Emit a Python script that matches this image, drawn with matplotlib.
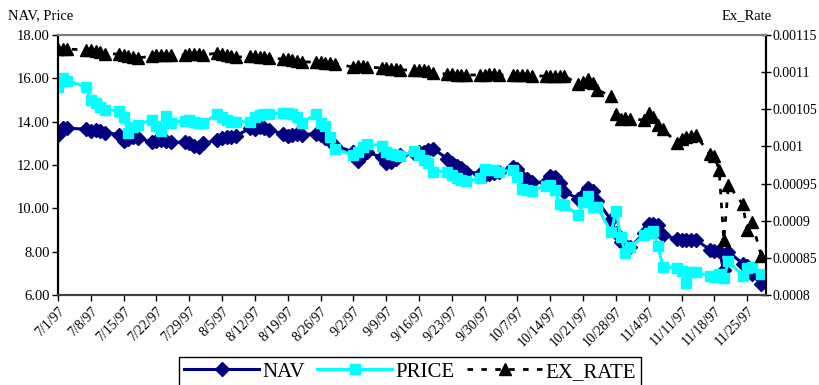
import matplotlib
matplotlib.use("Agg")
import matplotlib.pyplot as plt
import matplotlib.ticker as mticker
import pandas as pd

# trading days Jul 1 - Nov 28 1997 (US holidays skipped)
dates = pd.bdate_range("1997-07-01", "1997-11-28", freq="C",
                       holidays=["1997-07-04", "1997-09-01", "1997-11-27"])

nav = [
    13.4, 13.7, 13.7,                    # Jul 1-3
    13.65, 13.55, 13.6, 13.55, 13.5,     # Jul 7-11
    13.4, 13.1, 13.2, 13.3, 13.25,       # Jul 14-18
    13.05, 13.1, 13.15, 13.1, 13.05,     # Jul 21-25
    13.05, 13.0, 12.9, 12.85, 13.0,      # Jul 28-Aug 1
    13.15, 13.25, 13.3, 13.3, 13.35,     # Aug 4-8
    13.7, 13.65, 13.75, 13.7, 13.6,      # Aug 11-15
    13.45, 13.35, 13.4, 13.45, 13.4,     # Aug 18-22
    13.45, 13.4, 13.25, 13.1, 12.9,      # Aug 25-29
    12.6, 12.2, 12.45, 12.6,             # Sep 2-5
    12.35, 12.1, 12.15, 12.3, 12.45,     # Sep 8-12
    12.55, 12.6, 12.6, 12.7, 12.75,      # Sep 15-19
    12.3, 12.1, 11.95, 11.85, 11.7,      # Sep 22-26
    11.6, 11.55, 11.6, 11.65, 11.7,      # Sep 29-Oct 3
    11.9, 11.8, 11.45, 11.35, 11.2,      # Oct 6-10
    11.2, 11.5, 11.45, 11.15, 10.75,     # Oct 13-17
    10.45, 10.6, 10.95, 10.8, 10.35,     # Oct 20-24
    9.45, 8.85, 8.45, 8.3, 8.2,          # Oct 27-31
    8.85, 9.3, 9.3, 9.25, 8.75,          # Nov 3-7
    8.6, 8.55, 8.55, 8.55, 8.55,         # Nov 10-14
    8.1, 8.05, 8.05, 7.15, 8.0,          # Nov 17-21
    7.45, 7.35, 6.95, 6.5,               # Nov 24-28
]

price = [
    15.6, 16.0, 15.9,
    15.6, 15.0, 14.85, 14.7, 14.55,
    14.5, 14.2, 13.5, 13.75, 13.85,
    14.1, 13.8, 13.55, 14.25, 13.95,
    14.05, 14.1, 14.0, 13.95, 13.95,
    14.35, 14.2, 14.1, 14.0, 14.0,
    14.0, 14.2, 14.3, 14.35, 14.35,
    14.4, 14.4, 14.35, 14.2, 13.95,
    14.35, 13.95, 13.8, 13.3, 12.75,
    12.45, 12.6, 12.85, 12.95,
    12.9, 12.6, 12.5, 12.45, 12.4,
    12.65, 12.45, 12.25, 12.1, 11.7,
    11.7, 11.55, 11.4, 11.3, 11.25,
    11.4, 11.8, 11.75, 11.75, 11.7,
    11.75, 11.45, 10.9, 10.85, 10.8,
    11.05, 11.1, 10.85, 10.2, 10.15,
    9.7, 10.3, 10.55, 10.05, 10.05,
    8.9, 9.9, 8.7, 7.95, 8.2,
    8.75, 8.85, 8.95, 8.25, 7.3,
    7.25, 7.1, 6.55, 7.05, 7.05,
    6.9, 6.85, 6.95, 6.8, 7.55,
    6.9, 7.25, 7.3, 6.95,
]

ex_rate = [
    0.001131, 0.001131, 0.001131,
    0.001130, 0.001130, 0.0011285, 0.001127, 0.0011245,
    0.0011245, 0.001123, 0.0011215, 0.001120, 0.001119,
    0.0011215, 0.001123, 0.001123, 0.001123, 0.001123,
    0.001123, 0.0011245, 0.0011245, 0.0011245, 0.001123,
    0.0011258, 0.0011245, 0.001123, 0.0011215, 0.001120,
    0.0011215, 0.0011215, 0.001120, 0.001120, 0.001119,
    0.0011177, 0.0011177, 0.0011163, 0.001115, 0.0011137,
    0.0011137, 0.0011137, 0.0011123, 0.0011123, 0.001111,
    0.001107, 0.0011083, 0.0011083, 0.001107,
    0.0011056, 0.0011056, 0.0011042, 0.0011042, 0.0011029,
    0.0011029, 0.0011029, 0.0011029, 0.0011015, 0.0010989,
    0.0010975, 0.0010975, 0.0010962, 0.0010962, 0.0010962,
    0.0010962, 0.0010962, 0.0010975, 0.0010975, 0.0010962,
    0.0010962, 0.0010962, 0.0010962, 0.0010962, 0.0010948,
    0.0010948, 0.0010948, 0.0010948, 0.0010948, 0.0010948,
    0.001084, 0.0010867, 0.0010908, 0.0010854, 0.001076,
    0.0010679, 0.0010437, 0.001037, 0.0010383, 0.001037,
    0.0010356, 0.001045, 0.0010396, 0.0010289, 0.0010235,
    0.0010046, 0.00101, 0.0010127, 0.001014, 0.0010154,
    0.0009898, 0.0009871, 0.0009683, 0.0008741, 0.0009481,
    0.0009225, 0.0008875, 0.0008983, 0.0008525,
]

tick_labels = ["7/1/97", "7/8/97", "7/15/97", "7/22/97", "7/29/97", "8/5/97",
               "8/12/97", "8/19/97", "8/26/97", "9/2/97", "9/9/97", "9/16/97",
               "9/23/97", "9/30/97", "10/7/97", "10/14/97", "10/21/97",
               "10/28/97", "11/4/97", "11/11/97", "11/18/97", "11/25/97"]
left_ticks = [6, 8, 10, 12, 14, 16, 18]
right_ticks = ["0.0008", "0.00085", "0.0009", "0.00095", "0.001",
               "0.00105", "0.0011", "0.00115"]

plt.rcParams["font.family"] = ["Liberation Serif", "DejaVu Serif"]
plt.rcParams["font.size"] = 10.5

fig = plt.figure(figsize=(8.2, 3.85), dpi=100)
ax = fig.add_axes([58 / 820, 1 - 295 / 385, 708 / 820, 260 / 385])
ax2 = ax.twinx()

l1, = ax.plot(dates, nav, color="#000080", lw=2.2, marker="D", ms=7,
              label="NAV", zorder=2)
l2, = ax.plot(dates, price, color="#00FFFF", lw=2.2, marker="s", ms=7.5,
              label="PRICE", zorder=3)
l3, = ax2.plot(dates, ex_rate, color="black", lw=2, ls=(0, (2, 3)),
               marker="^", ms=8.5, label="EX_RATE")

ax.set_xlim(pd.Timestamp("1997-07-01"), pd.Timestamp("1997-11-29"))
ax.set_ylim(6, 18)
ax.set_yticks(left_ticks)
ax.yaxis.set_major_formatter(mticker.FormatStrFormatter("%.2f"))
ax2.set_ylim(0.0008, 0.00115)
ax2.set_yticks([float(t) for t in right_ticks])
ax2.set_yticklabels(right_ticks, fontsize=10)

tick_pos = pd.to_datetime(tick_labels, format="%m/%d/%y")
ax.set_xticks(tick_pos)
ax.set_xticklabels(tick_labels, rotation=45, ha="right", rotation_mode="anchor",
                   fontsize=10)

ax.tick_params(axis="y", direction="out", length=4, width=1, pad=2)
ax.tick_params(axis="x", direction="out", length=4, width=1, pad=3)
ax2.tick_params(axis="y", direction="inout", length=7, width=1, pad=1.5)

for a in (ax, ax2):
    a.spines["top"].set_color("#808080")
    a.spines["top"].set_linewidth(1.5)
    a.spines["left"].set_linewidth(1.5)
    a.spines["right"].set_linewidth(1.5)
    a.spines["bottom"].set_color("#404040")
    a.spines["bottom"].set_linewidth(1.5)

fig.text(8 / 820, 1 - 16 / 385, "NAV, Price", fontsize=10.5, va="center")
fig.text(722 / 820, 1 - 16 / 385, "Ex_Rate", fontsize=10.5, va="center")

leg = fig.legend(handles=[l1, l2, l3], loc="upper center",
                 bbox_to_anchor=(410 / 820, 1 - 357 / 385), ncol=3,
                 fontsize=15, numpoints=1, handlelength=3.6, handletextpad=0.15,
                 columnspacing=0.6, fancybox=False, edgecolor="black",
                 framealpha=1, borderpad=0.25, borderaxespad=0)
leg.get_frame().set_linewidth(1)

fig.savefig("out.png", dpi=100)
